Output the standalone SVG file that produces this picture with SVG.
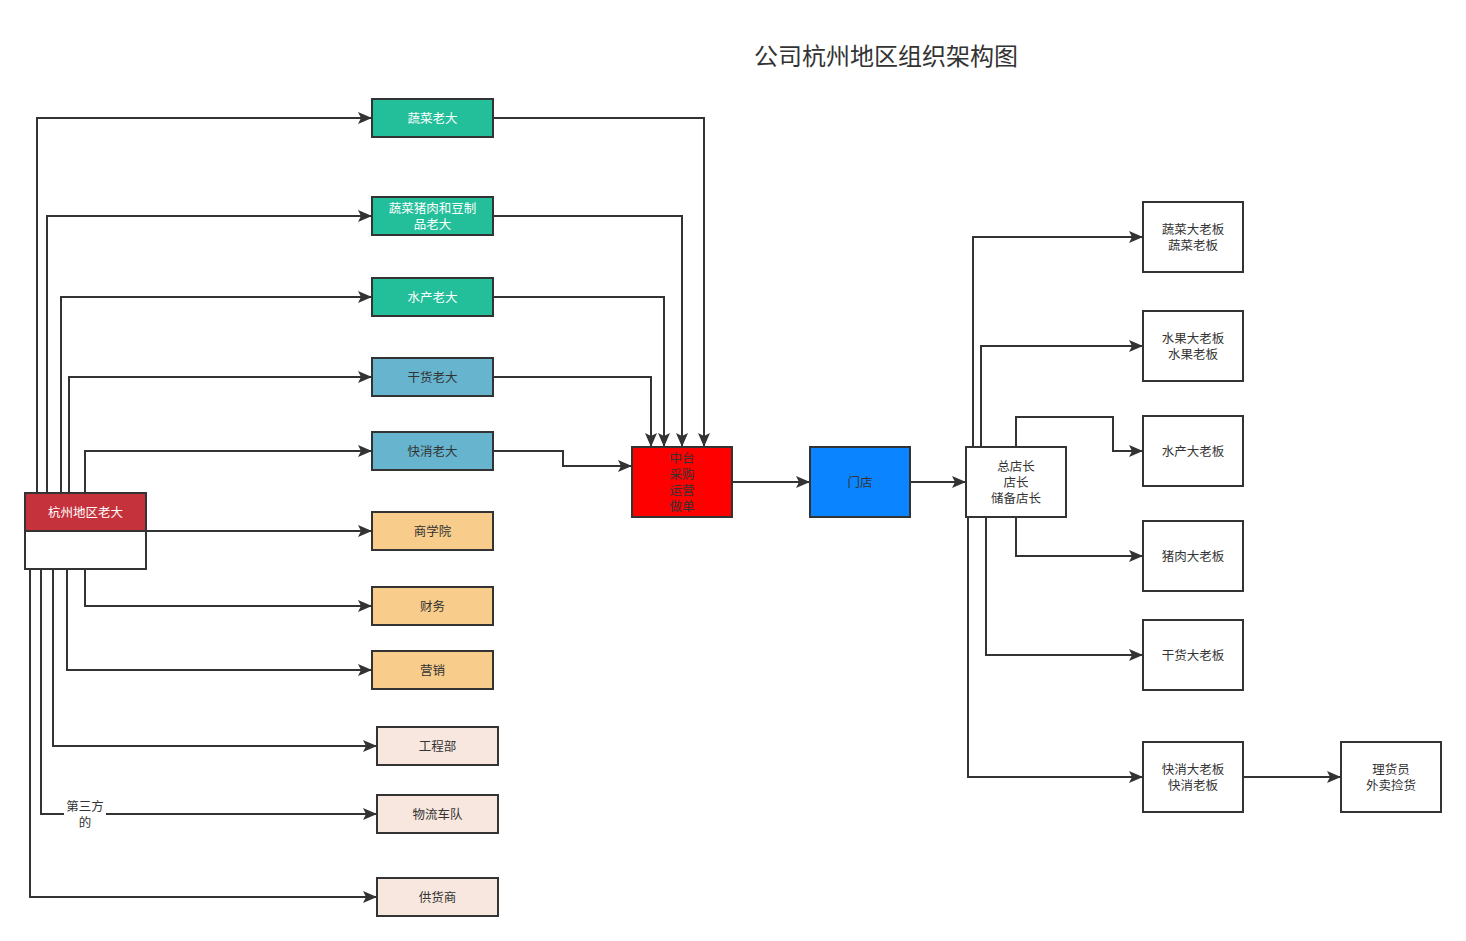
<svg xmlns="http://www.w3.org/2000/svg" width="1466" height="941" viewBox="0 0 1466 941">
<style>
text{font-family:"Noto Sans CJK SC","Liberation Sans",sans-serif;font-size:12.5px;text-anchor:middle;dominant-baseline:central;fill:#333}
.box{stroke:#333;stroke-width:2}
.teal{fill:#23BE9A}
.blue{fill:#66B4CE}
.org{fill:#F8CD8C}
.pink{fill:#F7E7DE}
.w{fill:#fff}
.e{fill:none;stroke:#333;stroke-width:2}
.title{font-size:24px}
</style>
<defs>
<marker id="a" markerUnits="userSpaceOnUse" markerWidth="15" markerHeight="12" refX="14" refY="6" orient="auto"><path d="M0,0 L14,6 L0,12 L3,6 Z" fill="#333"/></marker>
</defs>
<rect width="1466" height="941" fill="#fff"/>
<text class="title" x="886" y="54">公司杭州地区组织架构图</text>
<g id="edges">
<path class="e" marker-end="url(#a)" d="M37,493 V118 H372"/>
<path class="e" marker-end="url(#a)" d="M47,493 V216 H372"/>
<path class="e" marker-end="url(#a)" d="M61,493 V297 H372"/>
<path class="e" marker-end="url(#a)" d="M69,493 V377 H372"/>
<path class="e" marker-end="url(#a)" d="M85,493 V451 H372"/>
<path class="e" marker-end="url(#a)" d="M146,531 H372"/>
<path class="e" marker-end="url(#a)" d="M85,569 V606 H372"/>
<path class="e" marker-end="url(#a)" d="M67,569 V670 H372"/>
<path class="e" marker-end="url(#a)" d="M53,569 V746 H377"/>
<path class="e" marker-end="url(#a)" d="M41,569 V814 H377"/>
<path class="e" marker-end="url(#a)" d="M30,569 V897 H377"/>
<path class="e" marker-end="url(#a)" d="M493,118 H704 V447"/>
<path class="e" marker-end="url(#a)" d="M493,216 H682 V447"/>
<path class="e" marker-end="url(#a)" d="M493,297 H664 V447"/>
<path class="e" marker-end="url(#a)" d="M493,377 H651 V447"/>
<path class="e" marker-end="url(#a)" d="M493,451 H563 V466 H632"/>
<path class="e" marker-end="url(#a)" d="M732,482 H810"/>
<path class="e" marker-end="url(#a)" d="M910,482 H966"/>
<path class="e" marker-end="url(#a)" d="M973,447 V237 H1143"/>
<path class="e" marker-end="url(#a)" d="M981,447 V346 H1143"/>
<path class="e" marker-end="url(#a)" d="M1016,447 V417 H1113 V451 H1143"/>
<path class="e" marker-end="url(#a)" d="M1016,517 V556 H1143"/>
<path class="e" marker-end="url(#a)" d="M986,517 V655 H1143"/>
<path class="e" marker-end="url(#a)" d="M968,517 V777 H1143"/>
<path class="e" marker-end="url(#a)" d="M1243,777 H1341"/>
<rect x="64" y="798" width="42" height="32" fill="#fff"/>
<text x="85" y="805">第三方<tspan x="85" dy="16">的</tspan></text>
</g>
<g id="n-hz">
<rect class="box" x="25" y="493" width="121" height="38" fill="#C5323B"/>
<rect class="box" x="25" y="531" width="121" height="38" fill="#fff"/>
<text x="85.5" y="511" style="fill:#fff">杭州地区老大</text>
</g>
<g id="n1"><rect class="box teal" x="372" y="99" width="121" height="38"/><text x="432.5" y="117" style="fill:#fff">蔬菜老大</text></g>
<g id="n2"><rect class="box teal" x="372" y="197" width="121" height="38"/><text x="432.5" y="207" style="fill:#fff">蔬菜猪肉和豆制<tspan x="432.5" dy="16">品老大</tspan></text></g>
<g id="n3"><rect class="box teal" x="372" y="278" width="121" height="38"/><text x="432.5" y="296" style="fill:#fff">水产老大</text></g>
<g id="n4"><rect class="box blue" x="372" y="358" width="121" height="38"/><text x="432.5" y="376">干货老大</text></g>
<g id="n5"><rect class="box blue" x="372" y="432" width="121" height="38"/><text x="432.5" y="450">快消老大</text></g>
<g id="n6"><rect class="box org" x="372" y="512" width="121" height="38"/><text x="432.5" y="530">商学院</text></g>
<g id="n7"><rect class="box org" x="372" y="587" width="121" height="38"/><text x="432.5" y="605">财务</text></g>
<g id="n8"><rect class="box org" x="372" y="651" width="121" height="38"/><text x="432.5" y="669">营销</text></g>
<g id="n9"><rect class="box pink" x="377" y="727" width="121" height="38"/><text x="437.5" y="745">工程部</text></g>
<g id="n10"><rect class="box pink" x="377" y="795" width="121" height="38"/><text x="437.5" y="813">物流车队</text></g>
<g id="n11"><rect class="box pink" x="377" y="878" width="121" height="38"/><text x="437.5" y="896">供货商</text></g>
<g id="n-zt"><rect class="box" x="632" y="447" width="100" height="70" fill="#FF0000"/>
<text x="682" y="457">中台<tspan x="682" dy="16">采购</tspan><tspan x="682" dy="16">运营</tspan><tspan x="682" dy="16">做单</tspan></text></g>
<g id="n-md"><rect class="box" x="810" y="447" width="100" height="70" fill="#0A84FF"/><text x="860" y="481">门店</text></g>
<g id="n-dz"><rect class="box w" x="966" y="447" width="100" height="70"/><text x="1016" y="465">总店长<tspan x="1016" dy="16">店长</tspan><tspan x="1016" dy="16">储备店长</tspan></text></g>
<g id="r1"><rect class="box w" x="1143" y="202" width="100" height="70"/><text x="1193" y="228">蔬菜大老板<tspan x="1193" dy="16">蔬菜老板</tspan></text></g>
<g id="r2"><rect class="box w" x="1143" y="311" width="100" height="70"/><text x="1193" y="337">水果大老板<tspan x="1193" dy="16">水果老板</tspan></text></g>
<g id="r3"><rect class="box w" x="1143" y="416" width="100" height="70"/><text x="1193" y="450">水产大老板</text></g>
<g id="r4"><rect class="box w" x="1143" y="521" width="100" height="70"/><text x="1193" y="555">猪肉大老板</text></g>
<g id="r5"><rect class="box w" x="1143" y="620" width="100" height="70"/><text x="1193" y="654">干货大老板</text></g>
<g id="r6"><rect class="box w" x="1143" y="742" width="100" height="70"/><text x="1193" y="768">快消大老板<tspan x="1193" dy="16">快消老板</tspan></text></g>
<g id="r7"><rect class="box w" x="1341" y="742" width="100" height="70"/><text x="1391" y="768">理货员<tspan x="1391" dy="16">外卖捡货</tspan></text></g>
</svg>
